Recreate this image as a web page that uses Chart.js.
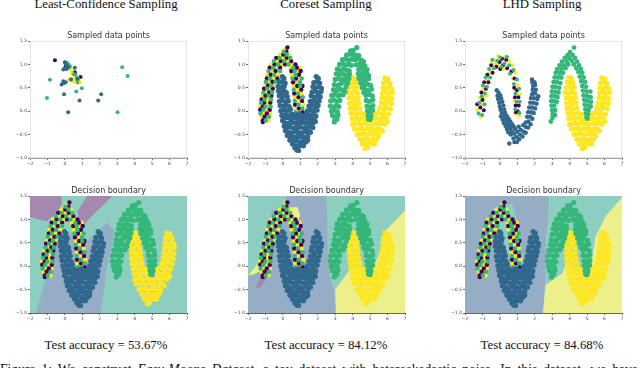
<!DOCTYPE html>
<html>
<head>
<meta charset="utf-8">
<script src="https://cdn.jsdelivr.net/npm/chart.js@4"></script>
<style>
  html, body { margin: 0; background: #fff; overflow: hidden; }
  body { width: 640px; height: 368px; position: relative; }
  .box { position: absolute; }
  .txt { position: absolute; font-family: 'Liberation Serif', serif; color: #111; white-space: nowrap; text-align: center; }
</style>
</head>
<body>
<script>
// ─── Labels ───────────────────────────────────────────────────────────────────
const methodNames = ['Least-Confidence Sampling', 'Coreset Sampling', 'LHD Sampling'];
const accuracyLabels = ['Test accuracy = 53.67%', 'Test accuracy = 84.12%', 'Test accuracy = 84.68%'];
const panelTitles = ['Sampled data points', 'Decision boundary'];
const captionHead = 'Figure 1: We construct ';
const captionName = 'Easy-Moons Dataset';
const captionTail = ', a toy dataset with heteroskedastic noise. In this dataset, we have';
const xTicks = ['\u22122', '\u22121', '0', '1', '2', '3', '4', '5', '6', '7'];
const yTicks = ['\u22121.0', '\u22120.5', '0.0', '0.5', '1.0', '1.5'];

const lcPurple = [[-.57,1.09],[.06,.97],[.02,.93],[.57,.83],[.9,.73],[.73,.62]];
const lcBlue = [[.57,.93],[-.09,.89],[0,1.04],[.1,.98],[.05,1],[.2,.94],[.1,.9],[-.19,.57],[-.09,.64],[.04,.62],[-.04,.6],[-.05,.36],[2.08,.36],[1.91,.23],[.84,.23],[.19,-.02],[.71,.7],[.35,.68]];
const lcGreen = [[-.86,.67],[-1.03,.28],[3.28,.94],[3.6,.75],[.65,.42],[.97,.49],[3.02,-.02],[0,1.05],[.14,1.03],[.2,1],[.29,.96],[-.05,.9],[.52,.79],[.62,.78],[.76,.7],[.72,.65]];
const lcYellow = [[.33,.91],[.38,.86],[.42,.8],[.19,.66],[.3,.7],[.44,.64],[.57,.73],[.86,.62],[.52,.7],[.76,.66],[.6,.62]];

// ─── Full moons (coreset top, all boundary panels) ────────────────────────────
const blueMoon = [
  [-.03,.74],[.06,.7],[-.2,.63],[-.03,.62],[.13,.6],[-.27,.53],[-.09,.51],[.08,.54],[-.26,.43],[-.11,.41],[.07,.44],[.2,.4],
  [-.21,.33],[-.06,.31],[.11,.34],[.25,.31],[-.2,.21],[-.02,.23],[.15,.2],[.31,.22],[-.16,.12],[.02,.11],[.19,.13],[.36,.1],
  [-.12,.01],[.08,.03],[.26,.01],[.43,.04],[-.06,-.09],[.12,-.07],[.3,-.1],[.51,-.06],[.68,-.1],[.62,-.1],[.78,-.08],[.95,-.05],
  [1.91,.74],[2.03,.7],[1.77,.61],[1.95,.63],[2.11,.6],[1.72,.52],[1.88,.5],[2.06,.53],[2.21,.49],[1.67,.41],[1.85,.43],[2.03,.4],[2.19,.42],
  [1.62,.33],[1.79,.3],[1.98,.32],[2.14,.31],[1.57,.21],[1.76,.23],[1.92,.2],[2.08,.22],[1.49,.11],[1.68,.13],[1.85,.1],[2.02,.12],
  [1.41,.01],[1.6,.03],[1.78,0],[1.96,.02],[1.12,-.1],[1.31,-.07],[1.5,-.09],[1.7,-.06],[1.89,-.1],
  [.04,-.16],[.25,-.14],[.46,-.17],[.66,-.15],[.86,-.16],[1.05,-.14],[1.26,-.17],[1.46,-.15],[1.65,-.16],[1.83,-.14],
  [-.02,-.2],[.11,-.25],[.32,-.26],[.53,-.24],[.73,-.26],[.93,-.25],[1.13,-.24],[1.33,-.26],[1.53,-.24],[1.72,-.25],[1.86,-.22],
  [.08,-.32],[.21,-.35],[.41,-.34],[.6,-.36],[.81,-.35],[1,-.34],[1.21,-.36],[1.41,-.35],[1.6,-.34],[1.72,-.35],
  [.14,-.42],[.31,-.45],[.5,-.46],[.7,-.44],[.91,-.45],[1.1,-.46],[1.3,-.44],[1.49,-.45],[1.58,-.45],
  [.25,-.52],[.45,-.55],[.66,-.56],[.85,-.54],[1.05,-.55],[1.24,-.56],[1.42,-.54],[.4,-.62],[.6,-.65],[.8,-.64],[1,-.66],[1.2,-.64],[1.32,-.66],[1.42,-.62],
  [.55,-.7],[.75,-.75],[.95,-.74],[1.1,-.72],[1.18,-.74],[.68,-.78],[.8,-.83],[.9,-.84]
];
const greenMoon = [
  [4.24,1.36],[3.88,1.29],[4.03,1.3],[3.65,1.2],[3.82,1.22],[4,1.21],[4.18,1.2],[4.35,1.19],
  [3.42,1.1],[3.6,1.12],[3.78,1.09],[3.96,1.11],[4.14,1.1],[4.32,1.12],[4.5,1.09],[4.62,1.06],
  [3.25,1],[3.42,1.01],[3.6,.99],[3.78,1],[3.92,.98],[4.2,.99],[4.38,1],[4.55,.98],[4.7,.97],
  [3.12,.9],[3.3,.88],[3.48,.9],[3.66,.88],[3.8,.86],[4.35,.89],[4.52,.9],[4.68,.87],[4.82,.89],
  [3.06,.8],[3.24,.78],[3.42,.8],[3.6,.77],[3.82,.79],[4.32,.8],[4.48,.79],[4.65,.77],[4.82,.8],[4.92,.76],
  [3,.68],[3.18,.7],[3.36,.67],[3.55,.7],[3.78,.7],[4.36,.7],[4.42,.75],[4.58,.69],[4.75,.67],[4.92,.7],
  [2.95,.57],[3.12,.55],[3.3,.58],[3.48,.62],[3.6,.7],[3.72,.6],[4.46,.6],[4.52,.68],[4.58,.58],[4.68,.56],[4.85,.58],[5.02,.55],
  [2.9,.46],[3.08,.44],[3.26,.47],[3.46,.45],[3.62,.52],[4.55,.5],[4.72,.46],[4.9,.44],[5.08,.47],
  [2.8,.34],[2.98,.36],[3.16,.33],[3.3,.35],[3.45,.35],[3.56,.42],[4.64,.4],[4.76,.34],[4.94,.36],[5.12,.33],
  [2.74,.22],[2.92,.24],[3.1,.21],[3.26,.23],[4.78,.23],[4.96,.21],[5.15,.24],
  [2.72,.11],[2.9,.09],[3.06,.12],[3.2,.1],[4.82,.11],[4.98,.09],[5.16,.12],
  [2.78,0],[2.96,.02],[3.12,-.01],[4.85,.01],[5.02,-.01],[5.14,.02],
  [2.84,-.09],[3,-.11],[3.16,-.08],[4.88,-.09],[5.05,-.1],[2.98,-.18],[3.1,-.17],[4.92,-.17],[5,-.18],[2.95,-.23]
];
const yellowMoon = [
  [3.95,.72],[4.08,.7],[5.84,.71],[6.02,.69],[3.86,.62],[4.02,.6],[4.18,.61],[5.76,.6],[5.94,.62],[6.14,.59],
  [3.8,.5],[3.97,.52],[4.14,.49],[4.26,.51],[5.74,.5],[5.92,.49],[6.1,.52],[6.24,.48],
  [3.76,.4],[3.93,.38],[4.1,.41],[4.28,.39],[5.72,.39],[5.9,.41],[6.08,.38],[6.28,.4],
  [3.8,.28],[3.98,.3],[4.16,.27],[4.32,.29],[5.68,.29],[5.86,.27],[6.04,.3],[6.25,.27],
  [3.82,.17],[4,.19],[4.18,.16],[4.36,.18],[5.64,.18],[5.82,.16],[6,.19],[6.22,.16],
  [3.86,.06],[4.04,.08],[4.22,.05],[4.42,.07],[5.56,.07],[5.74,.05],[5.92,.08],[6.16,.05],
  [3.9,-.05],[4.08,-.03],[4.26,-.06],[4.48,-.04],[4.66,-.07],[5.3,-.05],[5.48,-.03],[5.66,-.06],[5.84,-.04],[6.06,-.06],
  [3.96,-.16],[4.14,-.15],[4.34,-.17],[4.54,-.15],[4.74,-.17],[4.94,-.18],[5.14,-.16],[5.34,-.15],[5.54,-.17],[5.74,-.15],[5.94,-.16],[6,-.22],
  [4,-.28],[4.1,-.27],[4.3,-.26],[4.5,-.28],[4.7,-.26],[4.9,-.27],[5.1,-.28],[5.3,-.26],[5.5,-.27],[5.72,-.26],[5.85,-.28],
  [4.1,-.38],[4.22,-.38],[4.42,-.37],[4.62,-.39],[4.82,-.37],[5.02,-.38],[5.22,-.39],[5.42,-.37],[5.6,-.38],[5.7,-.42],
  [4.25,-.5],[4.4,-.49],[4.6,-.48],[4.8,-.5],[5,-.48],[5.2,-.49],[5.42,-.48],[5.5,-.52],[4.42,-.6],[4.6,-.6],[4.8,-.59],[5,-.61],[5.2,-.6],[5.38,-.6],
  [4.55,-.7],[4.76,-.7],[4.94,-.69],[5.1,-.7],[5.26,-.7],[4.85,-.78],[4.72,-.8]
];

// ─── Noisy left arch, mixed labels (coreset top, all boundary panels) ─────────
const archPurple = [
  [-1.15,-.2],[-1.05,-.12],[-.92,-.05],[-1.3,.03],[-.75,.03],[-1.15,.1],[-1.08,.18],[-.72,.18],[-1.22,.25],[-1,.33],[-.66,.33],[-.78,.4],
  [-1.08,.48],[-.58,.48],[-.85,.55],[-.6,.63],[-.92,.7],[-.32,.7],[-.7,.78],[-.42,.86],[-.76,.93],[-.16,.93],[.8,.93],[-.48,1],[.12,1],[.72,1],
  [-.12,1.07],[.48,1.07],[-.38,1.14],[.22,1.14],[.02,1.21],[.2,1.27],[.26,1.36],[-1.15,-.23],[.48,.86],[1.02,.86],[.92,.78],[.75,.7],[.58,.62],
  [.82,.54],[1.12,.54],[1.05,.46],[.65,.38],[.9,.3],[1.1,.22],[.7,.14],[.92,.06],[1.14,-.02],[.76,-.1],[1.02,-.17]
];
const archGreen = [
  [-.98,-.2],[-.8,-.12],[-1.28,-.05],[-1.12,.03],[-1,.1],[-.7,.1],[-1.25,.18],[-1.05,.25],[-.68,.25],[-.82,.33],[-1.12,.4],[-.62,.4],
  [-.9,.48],[-.68,.55],[-.98,.63],[-.42,.63],[-.75,.7],[-.5,.78],[-.82,.86],[-.15,.86],[-.56,.93],[.6,.93],[-.28,1],[.32,1],[-.52,1.07],[.08,1.07],
  [-.18,1.14],[.42,1.14],[.22,1.21],[.05,1.27],[.68,.86],[.72,.78],[.55,.7],[1.08,.7],[.98,.62],[1,.54],[.62,.46],[.86,.38],[1.14,.3],[.68,.22],
  [.9,.14],[1.12,.06],[.72,-.02],[.96,-.1]
];
const archYellow = [
  [-.82,-.2],[-1.22,-.12],[-1.1,-.05],[-.75,-.05],[-.95,.03],[-1.32,.1],[-.85,.1],[-.9,.18],[-.88,.25],[-1.18,.33],[-.95,.4],[-.72,.48],
  [-1.02,.55],[-.5,.55],[-.8,.63],[-.55,.7],[-.88,.78],[-.25,.78],[-.62,.86],[-.36,.93],[.42,.93],[.98,.93],[-.68,1],[-.08,1],[.52,1],[-.32,1.07],
  [.28,1.07],[.02,1.14],[-.18,1.21],[.36,1.21],[.12,1.32],[.88,.86],[.5,.78],[.95,.7],[.78,.62],[.62,.54],[.84,.46],[1.08,.38],[.68,.3],[.88,.22],
  [1.18,.14],[.7,.06],[.94,-.02],[1.08,-.1],[.9,-.17]
];

const lhdBlue = [
  [-.18,.45],[-.08,.4],[-.14,.33],[.02,.34],[-.1,.26],[.08,.27],[-.04,.18],[.14,.2],[0,.1],[.2,.12],[.04,.03],[.24,.04],[.1,-.04],[.3,-.03],
  [.06,-.11],[.22,-.1],[.4,-.1],[.16,-.18],[.34,-.17],[.5,-.16],[.22,-.25],[.42,-.24],[.6,-.22],[.32,-.31],[.5,-.3],[.7,-.28],[.4,-.38],[.6,-.36],[.8,-.33],
  [.54,-.69],[.83,-.66],[.48,-.45],[.68,-.43],[.88,-.38],[1.08,-.33],[.62,-.5],[.82,-.48],[1,-.44],[1.2,-.4],[1.34,-.3],[.78,-.58],[.96,-.55],[1.16,-.5],[1.36,-.44],[1.5,-.34],
  [.98,-.66],[1.1,-.6],[1.3,-.54],[1.48,-.46],[1.62,-.35],[1.48,-.24],[1.64,-.22],[1.76,-.28],[1.56,-.12],[1.74,-.12],[1.86,-.16],[1.62,-.02],[1.8,-.02],[1.94,-.04],
  [1.68,.08],[1.86,.08],[2.02,.06],[1.74,.18],[1.92,.18],[2.1,.16],[1.78,.28],[1.96,.28],[2.14,.26],[1.84,.36],[2.02,.38],[2.2,.32],[1.88,.46],[2.06,.46],
  [1.9,.54],[2.02,.56],[1.86,.62],[1.98,.62],[1.84,.68],[1.9,.38]
];
const lhdGreen = [
  [4.25,1.36],[4.02,1.26],[3.88,1.2],[4.16,1.2],[4.3,1.14],[3.72,1.14],[3.98,1.13],[3.56,1.06],[3.82,1.06],[4.12,1.08],[4.42,1.06],[3.42,.98],[3.66,.98],[3.92,1],[4.24,1],[4.54,.98],
  [3.28,.9],[3.52,.9],[3.76,.92],[4.38,.92],[4.64,.9],[3.2,.82],[3.42,.82],[3.62,.82],[4.5,.84],[4.72,.82],[3.14,.72],[3.34,.72],[3.52,.72],[4.58,.74],[4.8,.72],
  [3.08,.62],[3.28,.62],[3.46,.6],[4.66,.64],[4.88,.62],[3.02,.52],[3.2,.52],[3.4,.5],[4.72,.54],[4.94,.52],[2.98,.42],[3.16,.42],[3.36,.4],[4.76,.44],[4.98,.42],[5.18,.42],
  [2.96,.32],[3.14,.32],[3.3,.3],[4.8,.34],[5,.32],[5.2,.3],[2.94,.22],[3.1,.22],[3.26,.2],[4.84,.24],[5.04,.22],[5.22,.2],[2.96,.12],[3.12,.12],[4.86,.14],[5.06,.12],[5.2,.1],
  [3,.02],[3.16,.02],[4.9,.04],[5.08,.02],[3.02,-.06],[3.16,-.08],[4.92,-.05],[5.06,-.07],[3.02,-.14],[2.92,-.22],[4.96,-.13],[5.02,-.16]
];
const lhdPurple = [
  [-1.3,.15],[-1.12,.08],[-.92,.02],[-1,.24],[-1.06,.4],[-.8,.48],[-.9,.62],[-.66,.62],[-.72,.78],[-.42,.82],[-.5,.98],[-.2,.95],[.02,.9],[-.02,1.05],
  [.18,.98],[.12,1.12],[.36,1.1],[.42,.92],[.66,.85],[.84,.7],[.82,.5],[.98,.45],[.86,.3],[1.06,.3],[.9,.12],[1.08,.12],[.92,-.02],[1.02,0]
];
const lhdMixGreen = [
  [-1.22,-.05],[-1.02,-.08],[-1.18,.18],[-.88,.15],[-1.04,.32],[-.86,.38],[-.98,.55],[-.74,.52],[-.82,.72],[-.56,.72],[-.62,.9],[-.34,.92],[-.42,1.1],[-.16,1.08],
  [.02,1.15],[.1,.95],[.26,1.02],[.4,1.16],[.54,.98],[.58,.8],[.78,.88],[.98,.68],[.8,.58],[1.1,.48],[.9,.38],[1.14,.2],[.96,.2],[.88,.04],[1.12,-.04]
];
const lhdMixYellow = [
  [-1.1,-.12],[-1.28,.02],[-1.06,.14],[-.9,.28],[-1.14,.28],[-.94,.46],[-.76,.34],[-.84,.52],[-.7,.66],[-.64,.8],[-.52,.86],[-.48,1.08],[-.28,1.02],[-.08,1],
  [-.1,1.18],[.22,.9],[.28,1.16],[.52,1.08],[.72,.98],[.9,.82],[.74,.7],[1.02,.56],[.86,.46],[1.16,.36],[.84,.22],[1.02,.12],[.88,-.06],[1.1,-.1]
];

// ─── Decision regions (polygons in data units) ────────────────────────────────
const lcPurpleLeft = [[-2,1.5],[-.19,1.5],[-.19,1.31],[-.47,1.13],[-1.05,.96],[-2,1.05]];
const lcPurpleRight = [[1.28,1.5],[2.73,1.5],[1.81,1.17],[1.05,.88],[.86,.95],[.71,1.17]];
const lcBlueRegion = [[-1.66,-1],[-1.05,-.22],[-1.24,.35],[-.38,.63],[.29,.7],[1.24,.53],[2.42,.93],[2.86,.74],[2.39,-.08],[2.06,-1]];
const csBlueRegion = [[.19,1.5],[2.47,1.5],[2.55,.92],[2.55,.42],[2.7,-.22],[2.99,-.61],[3.04,-1],[-2,-1],[-2,-.22],[-1.3,.07],[-1.11,.42],[-.63,1.2],[.19,1.27]];
const csYellowLeft = [[-2,-.2],[-1.39,.07],[-1.11,.07],[-1.3,-.11],[-1.68,-.18]];
const csPurple = [[-1.58,-.5],[-1.3,-.22],[-1.01,-.01],[-.76,-.04],[-.92,-.25],[-1.2,-.43]];
const csYellowTop = [[.42,1.26],[.84,1.26],[.99,1.1],[.84,.92],[.51,.99]];
const csYellowRight = [[3.04,-1],[7,-1],[7,1.19],[5.94,.78],[5.55,.28],[4.98,-.18],[4.22,-.01],[3.84,-.08],[2.99,-.5]];
const lhdBlueRegion = [[-2,1.5],[2.78,1.5],[2.78,1.13],[2.62,.49],[2.59,-.28],[2.47,-1],[-2,-1]];
const lhdTealSliver = [[-.33,1.24],[.72,1.34],[1.01,.92],[1.29,.31],[1.33,-.22],[.82,-.18],[.15,.63],[-.38,.78]];
const lhdYellowRegion = [[2.47,-1],[7,-1],[7,1.47],[6.05,1.06],[5.48,.63],[5.19,-.08],[4.72,-.18],[3.77,.03],[3.58,-.15],[2.62,-.4]];

// ─── Styling ──────────────────────────────────────────────────────────────────
const COLORS = {
  purple: '#440154', blue: '#31688e', green: '#35b779', yellow: '#fde725',
  rPurple: '#a488b0', rBlue: '#95aec5', rTeal: '#8ccfc0', rYellow: '#edf08a',
  tick: '#444', title: '#333', spine: '#e4e4e4', axis: '#a0a0a0',
};

const pts = a => a.map(([x, y]) => ({ x, y }));
const layer = (arr, color, r) => ({ data: pts(arr), backgroundColor: color, borderColor: color, pointRadius: r, pointBorderWidth: 0 });

// filled regions go behind the points, always through the chart's scales
const regionPlugin = {
  id: 'regions',
  beforeDatasetsDraw(chart, _args, opts) {
    const { ctx, chartArea: a, scales: { x, y } } = chart;
    ctx.save();
    ctx.beginPath();
    ctx.rect(a.left, a.top, a.width, a.height);
    ctx.clip();
    if (opts.base) {
      ctx.fillStyle = opts.base;
      ctx.fillRect(a.left, a.top, a.width, a.height);
    }
    for (const [poly, color] of opts.polys || []) {
      ctx.beginPath();
      poly.forEach(([px, py]) => ctx.lineTo(x.getPixelForValue(px), y.getPixelForValue(py)));
      ctx.closePath();
      ctx.fillStyle = color;
      ctx.fill();
    }
    ctx.restore();
    if (!opts.base) {
      ctx.strokeStyle = COLORS.spine;
      ctx.lineWidth = 1;
      ctx.strokeRect(a.left + .5, a.top + .5, a.width - 1, a.height - 1);
    }
  },
};

const fullMoons = r => [
  layer(blueMoon, COLORS.blue, r),
  layer(greenMoon, COLORS.green, r),
  layer(yellowMoon, COLORS.yellow, r),
  layer(archGreen, COLORS.green, 2.2),
  layer(archPurple, COLORS.purple, 2.2),
  layer(archYellow, COLORS.yellow, 2.2),
];

const panels = [
  { left: 30, top: 41, title: 0, sets: [layer(lcBlue, COLORS.blue, 2), layer(lcGreen, COLORS.green, 2), layer(lcYellow, COLORS.yellow, 2), layer(lcPurple, COLORS.purple, 2)] },
  { left: 247.7, top: 41, title: 0, sets: fullMoons(2.6) },
  { left: 465.3, top: 41, title: 0, sets: [
    layer(lhdBlue, COLORS.blue, 2.2), layer(lhdGreen, COLORS.green, 2.4), layer(yellowMoon, COLORS.yellow, 2.6),
    layer(lhdMixGreen, COLORS.green, 2), layer(lhdPurple, COLORS.purple, 2), layer(lhdMixYellow, COLORS.yellow, 2),
  ] },
  { left: 30, top: 196, title: 1, base: COLORS.rTeal, polys: [[lcPurpleLeft, COLORS.rPurple], [lcPurpleRight, COLORS.rPurple], [lcBlueRegion, COLORS.rBlue]], sets: fullMoons(2.6) },
  { left: 247.7, top: 196, title: 1, base: COLORS.rTeal, polys: [[csBlueRegion, COLORS.rBlue], [csYellowLeft, COLORS.rYellow], [csPurple, COLORS.rPurple], [csYellowTop, COLORS.rYellow], [csYellowRight, COLORS.rYellow]], sets: fullMoons(2.6) },
  { left: 465.3, top: 196, title: 1, base: COLORS.rTeal, polys: [[lhdBlueRegion, COLORS.rBlue], [lhdTealSliver, COLORS.rTeal], [lhdYellowRegion, COLORS.rYellow]], sets: fullMoons(2.6) },
];

// ─── Build ────────────────────────────────────────────────────────────────────
const PLOT_W = 157, PLOT_H = 117, AXIS_L = 18, AXIS_B = 12, HEAD = 12;

panels.forEach(p => {
  const box = document.createElement('div');
  box.className = 'box';
  box.style.cssText = `left:${p.left - AXIS_L}px;top:${p.top - HEAD}px;width:${PLOT_W + AXIS_L * 2}px;height:${PLOT_H + HEAD + AXIS_B}px`;
  const cv = document.createElement('canvas');
  box.appendChild(cv);
  document.body.appendChild(box);

  new Chart(cv.getContext('2d'), {
    type: 'scatter',
    data: { datasets: p.sets },
    plugins: [regionPlugin],
    options: {
      responsive: true,
      maintainAspectRatio: false,
      animation: false,
      layout: { padding: { right: AXIS_L } },
      plugins: {
        legend: { display: false },
        tooltip: { enabled: false },
        title: {
          display: true,
          fullSize: false,
          text: panelTitles[p.title],
          color: COLORS.title,
          font: { family: "'DejaVu Sans',sans-serif", size: 8, weight: 'normal', lineHeight: 1 },
          padding: { top: 3, bottom: 1 },
        },
        regions: { base: p.base, polys: p.polys },
      },
      scales: {
        x: {
          type: 'linear', min: -2, max: 7,
          afterFit: s => { s.height = AXIS_B; },
          border: { color: p.base ? '#666' : COLORS.axis, width: p.base ? 1 : 2 },
          grid: { drawOnChartArea: false, tickLength: 2, color: '#666' },
          ticks: {
            stepSize: 1, padding: 1, maxRotation: 0, autoSkip: false, color: COLORS.tick,
            font: { family: "'DejaVu Sans',sans-serif", size: 4.5 },
            callback: v => xTicks[v + 2],
          },
        },
        y: {
          type: 'linear', min: -1, max: 1.5,
          afterFit: s => { s.width = AXIS_L; },
          border: { color: p.base ? '#666' : COLORS.spine, width: 1 },
          grid: { drawOnChartArea: false, tickLength: 2, color: '#666' },
          ticks: {
            stepSize: .5, padding: 1, autoSkip: false, color: COLORS.tick,
            font: { family: "'DejaVu Sans',sans-serif", size: 4.5 },
            callback: v => yTicks[(v + 1) * 2],
          },
        },
      },
    },
  });
});

// headings and captions as page text
const addText = (str, cx, top, size) => {
  const el = document.createElement('div');
  el.className = 'txt';
  el.textContent = str;
  el.style.cssText = `left:${cx - 150}px;width:300px;top:${top}px;font-size:${size}px;line-height:${size + 2}px`;
  document.body.appendChild(el);
};
const headCenters = [106, 326, 542];
methodNames.forEach((n, i) => addText(n, headCenters[i], -3, 12.8));
accuracyLabels.forEach((n, i) => addText(n, headCenters[i], 338, 12.8));

const cap = document.createElement('div');
cap.className = 'txt';
cap.style.cssText = 'left:0;top:362px;font-size:13.6px;line-height:15px;text-align:left;word-spacing:2.6px';
cap.append(captionHead);
const em = document.createElement('i');
em.textContent = captionName;
cap.append(em, captionTail);
document.body.appendChild(cap);
</script>
</body>
</html>
